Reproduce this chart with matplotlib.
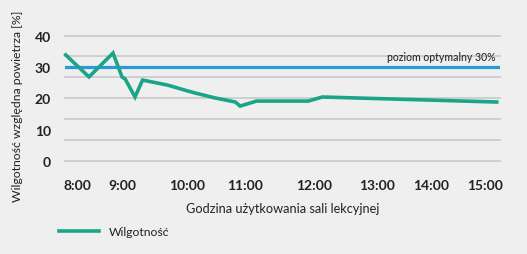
import numpy as np
import matplotlib
matplotlib.use("Agg")
import matplotlib.pyplot as plt

# dane
czas = ["7:45", "8:16", "8:48", "9:00", "9:03", "9:12", "9:19", "9:42", "10:01",
        "10:08", "10:29", "10:50", "10:55", "11:10", "11:55", "12:08", "15:13"]
wilgotnosc = [33.8, 26.8, 34.4, 26.8, 26.1, 20.4, 25.8, 24.2, 22.3,
              21.7, 20.1, 18.8, 17.5, 19.1, 19.1, 20.4, 18.8]
godziny_etykiety = ["8:00", "9:00", "10:00", "11:00", "12:00", "13:00", "14:00", "15:00"]
y_etykiety = [0, 10, 20, 30, 40]
optimum = 30


def na_godziny(t):
    h, m = t.split(":")
    return int(h) + int(m) / 60


x = [na_godziny(t) for t in czas]
x_ticks = [na_godziny(t) for t in godziny_etykiety]

# nierowne odstepy godzin na osi (jak w oryginale)
skala_h = [7, 8, 9, 10, 11, 12, 13, 14, 15, 16]
skala_px = [32, 77, 122, 187, 245, 314, 377, 431, 485, 539]


def fwd(h):
    return np.interp(h, skala_h, skala_px)


def inv(p):
    return np.interp(p, skala_px, skala_h)


bg = "#efefef"
teal = "#1aa58a"
blue = "#2a9ad6"
W, H = 527, 255
fig = plt.figure(figsize=(W / 100, H / 100), dpi=100, facecolor=bg)
ax = fig.add_axes([65 / W, (H - 162) / H, 435 / W, (162 - 36.5) / H], facecolor=bg)
ax.set_xscale("function", functions=(fwd, inv))
ax.set_xlim(inv(65), inv(500))
ax.set_ylim(0, 40)

for g in np.linspace(0, 40, 7):
    ax.axhline(g, color="#cccccc", lw=1.3, zorder=1, clip_on=False)

ax.axhline(optimum, color=blue, lw=2.3, zorder=2)
ax.text(inv(496), optimum + 3.2, "poziom optymalny 30%", ha="right", va="center",
        fontsize=7.6, color="#2a2a2a", family="Lato", fontweight="medium")
ax.plot(x, wilgotnosc, color=teal, lw=2.6, zorder=3, solid_joinstyle="miter",
        clip_on=False, label="Wilgotność")

ax.set_xticks(x_ticks)
ax.set_xticklabels(godziny_etykiety, fontsize=10, fontweight="bold", family="Lato", color="#222222")
ax.set_yticks(y_etykiety)
ax.set_yticklabels([str(v) for v in y_etykiety], fontsize=10, fontweight="bold", family="Lato", color="#222222")
ax.tick_params(axis="x", length=0, pad=13)
ax.tick_params(axis="y", length=0, pad=10)
for s in ax.spines.values():
    s.set_visible(False)

ax.set_xlabel("Godzina użytkowania sali lekcyjnej", fontsize=9.2, family="Lato", color="#222222", labelpad=8)
fig.text(18 / W, (H - 106) / H, "Wilgotność względna powietrza [%]", rotation=90,
         ha="center", va="center", fontsize=8.8, family="Lato", color="#222222")

leg = fig.legend(loc="center left", bbox_to_anchor=(48 / W, (H - 233) / H), frameon=False,
                 handlelength=3.3, prop={"family": "Lato", "size": 8.7})
for t in leg.get_texts():
    t.set_color("#222222")

plt.savefig("out.png", dpi=100, facecolor=bg)
